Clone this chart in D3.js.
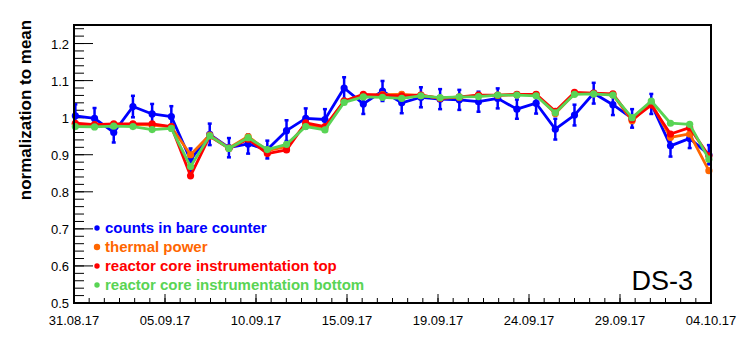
<!DOCTYPE html>
<html>
<head>
<meta charset="utf-8">
<script src="https://cdn.jsdelivr.net/npm/d3@7"></script>
<style>
  body { margin: 0; background: #fff; }
  svg { display: block; font-family: "Liberation Sans", Arial, sans-serif; }
</style>
</head>
<body>
<div id="chart"></div>
<script>
// tick labels on the time axis (7 equal divisions)
let dateLabels = ['31.08.17', '05.09.17', '10.09.17', '15.09.17', '19.09.17', '24.09.17', '29.09.17', '04.10.17'];

// one point per day, 34 days
let bareCounter = [1.005, 0.998, 0.960, 1.030, 1.010, 1.003, 0.886, 0.955, 0.919, 0.929, 0.914, 0.965, 0.998, 0.995, 1.080, 1.037, 1.072,
    1.040, 1.055, 1.050, 1.048, 1.043, 1.052, 1.023, 1.039, 0.969, 1.007, 1.066, 1.035, 0.998, 1.037, 0.924, 0.944, 0.900];
let bareCounterErr = [0.031, 0.028, 0.027, 0.029, 0.027, 0.028, 0.031, 0.029, 0.026, 0.026, 0.024, 0.028, 0.027, 0.028, 0.029, 0.027, 0.027,
    0.028, 0.027, 0.027, 0.027, 0.027, 0.027, 0.026, 0.028, 0.028, 0.028, 0.028, 0.028, 0.025, 0.027, 0.029, 0.026, 0.026];
let thermalPower = [0.982, 0.980, 0.981, 0.982, 0.980, 0.975, 0.900, 0.953, 0.918, 0.949, 0.911, 0.922, 0.982, 0.972, 1.045, 1.060, 1.062,
    1.063, 1.060, 1.053, 1.055, 1.060, 1.060, 1.062, 1.062, 1.011, 1.065, 1.065, 1.062, 0.992, 1.039, 0.947, 0.956, 0.857];
let coreTop = [0.985, 0.981, 0.983, 0.983, 0.983, 0.976, 0.843, 0.950, 0.917, 0.942, 0.903, 0.913, 0.986, 0.976, 1.045, 1.063, 1.061,
    1.059, 1.061, 1.052, 1.056, 1.061, 1.061, 1.063, 1.063, 1.017, 1.068, 1.066, 1.064, 0.995, 1.034, 0.956, 0.973, 0.897];
let coreBottom = [0.976, 0.975, 0.977, 0.976, 0.968, 0.971, 0.868, 0.951, 0.917, 0.946, 0.914, 0.928, 0.976, 0.967, 1.041, 1.056, 1.055,
    1.052, 1.059, 1.054, 1.056, 1.057, 1.061, 1.061, 1.059, 1.013, 1.063, 1.064, 1.061, 1.000, 1.045, 0.985, 0.982, 0.888];

let seriesNames = ['counts in bare counter', 'thermal power', 'reactor core instrumentation top', 'reactor core instrumentation bottom'];
let seriesColors = ['#0000ff', '#ff6600', '#ff0000', '#59d454'];

let width = 747, height = 355;
let frame = {left: 74, right: 711, top: 25, bottom: 303};

let svg = d3.select('#chart').append('svg')
    .attr('width', width)
    .attr('height', height);

// scales
let x = d3.scaleLinear().domain([-0.07, 33.11]).range([frame.left, frame.right]);
let y = d3.scaleLinear().domain([0.5, 1.25]).range([frame.bottom, frame.top]);

// x ticks: 7 equal divisions, 6 sub-divisions each
let xd = x.domain();
let xMajor = d3.range(8).map(i => xd[0] + i * (xd[1] - xd[0]) / 7);
let xMinor = d3.range(43).map(i => xd[0] + i * (xd[1] - xd[0]) / 42);

let axisG = svg.append('g');
axisG.selectAll('line.xminor')
    .data(xMinor)
    .enter()
    .append('line')
    .attr('x1', d => x(d)).attr('x2', d => x(d))
    .attr('y1', frame.bottom).attr('y2', frame.bottom - 5)
    .style('stroke', '#000').style('stroke-width', 1);
axisG.selectAll('line.xmajor')
    .data(xMajor)
    .enter()
    .append('line')
    .attr('x1', d => x(d)).attr('x2', d => x(d))
    .attr('y1', frame.bottom).attr('y2', frame.bottom - 9)
    .style('stroke', '#000').style('stroke-width', 1);
axisG.selectAll('text.xlabel')
    .data(xMajor)
    .enter()
    .append('text')
    .attr('x', d => x(d))
    .attr('y', 325)
    .style('text-anchor', 'middle')
    .style('font-size', '13px')
    .text((d, i) => dateLabels[i]);

// y ticks: major 0.1, minor 0.02
let yMinor = d3.range(0, 38).map(i => +(0.5 + i * 0.02).toFixed(2));
let yMajor = d3.range(0, 8).map(i => +(0.5 + i * 0.1).toFixed(1));
axisG.selectAll('line.yminor')
    .data(yMinor)
    .enter()
    .append('line')
    .attr('x1', frame.left).attr('x2', frame.left + 10)
    .attr('y1', d => y(d)).attr('y2', d => y(d))
    .style('stroke', '#000').style('stroke-width', 1);
axisG.selectAll('line.ymajor')
    .data(yMajor)
    .enter()
    .append('line')
    .attr('x1', frame.left).attr('x2', frame.left + 19)
    .attr('y1', d => y(d)).attr('y2', d => y(d))
    .style('stroke', '#000').style('stroke-width', 1);
axisG.selectAll('text.ylabel')
    .data(yMajor)
    .enter()
    .append('text')
    .attr('x', 69)
    .attr('y', d => y(d) + 5)
    .style('text-anchor', 'end')
    .style('font-size', '13px')
    .text(d => d3.format('~g')(d));

// y title
svg.append('text')
    .attr('transform', 'translate(31,' + 110 + ') rotate(-90)')
    .style('text-anchor', 'middle')
    .style('font-size', '17px')
    .style('font-weight', 'bold')
    .text('normalization to mean');

// data
let allSeries = [bareCounter, thermalPower, coreTop, coreBottom];
let line = d3.line().x((d, i) => x(i)).y(d => y(d));
let plotG = svg.append('g');

// blue error bars
let errG = plotG.append('g');
bareCounter.forEach((v, i) => {
    let e = bareCounterErr[i];
    errG.append('line')
        .attr('x1', x(i)).attr('x2', x(i))
        .attr('y1', y(v - e)).attr('y2', y(v + e))
        .style('stroke', seriesColors[0]).style('stroke-width', 2.5);
    [v - e, v + e].forEach(c => {
        errG.append('line')
            .attr('x1', x(i) - 2).attr('x2', x(i) + 2)
            .attr('y1', y(c)).attr('y2', y(c))
            .style('stroke', seriesColors[0]).style('stroke-width', 2.5);
    });
});

allSeries.forEach((s, k) => {
    let g = plotG.append('g');
    g.append('path')
        .attr('d', line(s))
        .style('fill', 'none')
        .style('stroke', seriesColors[k])
        .style('stroke-width', 2.8)
        .style('stroke-linejoin', 'round');
    g.selectAll('circle')
        .data(s)
        .enter()
        .append('circle')
        .attr('cx', (d, i) => x(i))
        .attr('cy', d => y(d))
        .attr('r', 3.6)
        .style('fill', seriesColors[k]);
});

// frame
svg.append('rect')
    .attr('x', frame.left).attr('y', frame.top)
    .attr('width', frame.right - frame.left)
    .attr('height', frame.bottom - frame.top)
    .style('fill', 'none')
    .style('stroke', '#000')
    .style('stroke-width', 2);

// legend
let legendG = svg.append('g');
let legendY = [228, 247, 266, 285];
seriesNames.forEach((name, k) => {
    legendG.append('circle')
        .attr('cx', 97).attr('cy', legendY[k])
        .attr('r', k === 1 ? 3.2 : 2.7)
        .style('fill', seriesColors[k]);
    legendG.append('text')
        .attr('x', 105).attr('y', legendY[k] + 5)
        .style('font-size', '15px')
        .style('font-weight', 'bold')
        .style('fill', seriesColors[k])
        .text(name);
});

// data set label
svg.append('text')
    .attr('x', 693).attr('y', 290)
    .style('text-anchor', 'end')
    .style('font-size', '27px')
    .text('DS-3');
</script>
</body>
</html>
